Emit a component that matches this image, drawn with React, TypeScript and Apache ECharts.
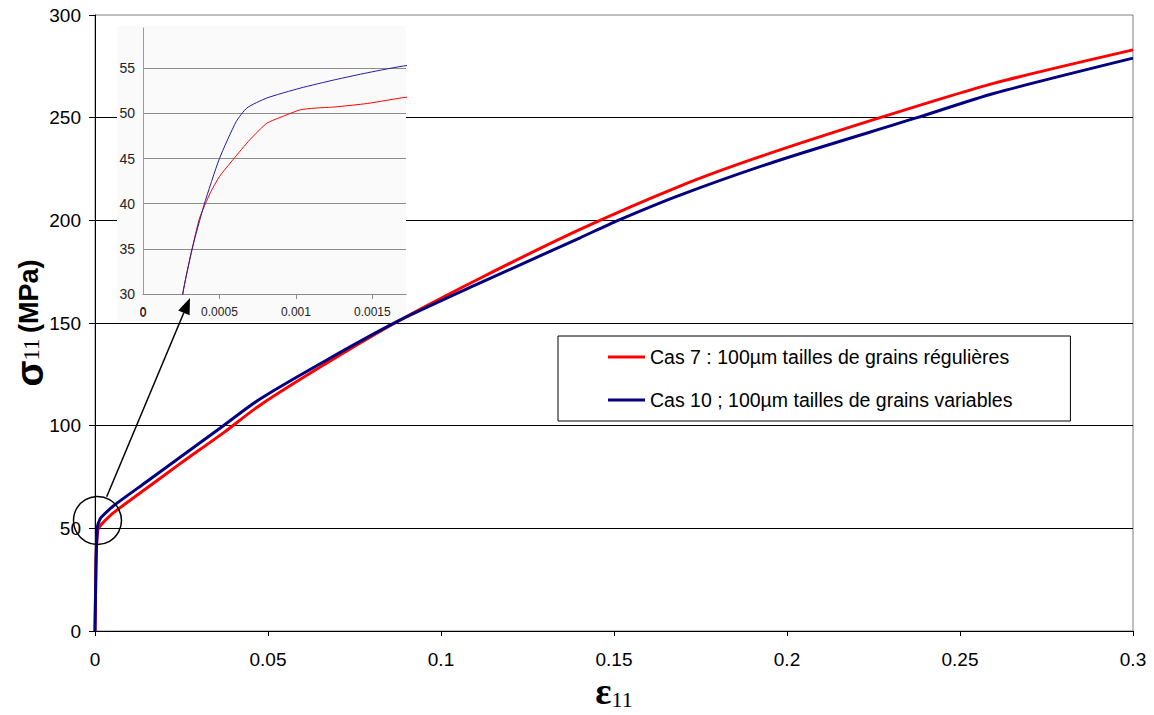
import React, { useEffect, useRef } from "react";
import * as echarts from "echarts";

// Cas 7 (red) : strain / stress (MPa)
const cas7Strain = [0, 0.00026, 0.00032, 0.00037, 0.00044, 0.0005, 0.00059, 0.0007, 0.00081, 0.00092, 0.00103, 0.00114, 0.00125, 0.00147, 0.00173, 0.0053, 0.0149, 0.0246, 0.0371, 0.0477, 0.067, 0.0877, 0.1113, 0.1402, 0.1691, 0.1922, 0.2269, 0.2597, 0.3];
const cas7Stress = [0, 30, 34.9, 38.4, 41.2, 43.0, 44.9, 47.1, 48.9, 49.7, 50.4, 50.6, 50.7, 51.1, 51.8, 57.5, 69.5, 81.5, 96.5, 110, 130.5, 151, 171.8, 195.6, 216.7, 231, 250, 266.7, 283];

// Cas 10 (blue) : strain / stress (MPa)
const cas10Strain = [0, 0.00026, 0.00032, 0.0004, 0.0005, 0.00061, 0.00068, 0.00081, 0.00103, 0.00125, 0.00147, 0.00173, 0.0053, 0.0149, 0.0246, 0.0371, 0.0477, 0.067, 0.0877, 0.1113, 0.1402, 0.1512, 0.1691, 0.198, 0.2376, 0.2597, 0.3];
const cas10Stress = [0, 30, 34.9, 39.9, 45.0, 49.1, 50.6, 51.7, 52.8, 53.7, 54.5, 55.3, 60.9, 72.7, 84.6, 100, 113, 132, 151, 169.5, 191.5, 200, 212.3, 229.4, 250, 261.8, 279];

// Inset (zoom) x-axis tick values
const insetXTicks = [0, 0.0005, 0.001, 0.0015];

const seriesNames = [
  "Cas 7 : 100µm tailles de grains régulières",
  "Cas 10 ; 100µm tailles de grains variables",
];

const pairs = (xs: number[], ys: number[]) => xs.map((x, i) => [x, ys[i]]);

const SANS = "'Liberation Sans', Arial, sans-serif";
const SERIF = "'Liberation Serif', 'Times New Roman', serif";

export default function App() {
  const ref = useRef<HTMLDivElement>(null);

  useEffect(() => {
    if (!ref.current) return;
    const chart = echarts.init(ref.current, null, { renderer: "svg" });
    const option: any = {
      animation: false,
      backgroundColor: "#ffffff",
      textStyle: { fontFamily: SANS },
      grid: [
        { left: 95, right: 21, top: 15, bottom: 84, show: true, borderColor: "#808080", borderWidth: 1, backgroundColor: "transparent", containLabel: false, outerBoundsMode: "none" },
        { left: 143, right: 748, top: 28, bottom: 421, show: false, containLabel: false, outerBoundsMode: "none" },
      ],
      xAxis: [
        {
          gridIndex: 0, type: "value", min: 0, max: 0.3, interval: 0.05,
          axisLine: { show: true, onZero: false, lineStyle: { color: "#000", width: 1 } },
          axisTick: { show: true, length: 5, lineStyle: { color: "#000" } },
          axisLabel: { fontSize: 19, color: "#000", margin: 19, fontFamily: SANS, showMinLabel: true },
          splitLine: { show: false },
          name: "{e|ε}{n|11}",
          nameLocation: "middle",
          nameGap: 33,
          nameMoveOverlap: false,
          nameTextStyle: {
            rich: {
              e: { fontSize: 38, fontWeight: "bold", fontFamily: SERIF, color: "#000", lineHeight: 46, verticalAlign: "bottom" },
              n: { fontSize: 22, fontFamily: SERIF, color: "#000", lineHeight: 26, padding: [0, 0, 0, 0], verticalAlign: "bottom" },
            },
          },
        },
        {
          gridIndex: 1, type: "value", min: 0, max: 0.00172, z: 5,
          axisLine: { show: true, onZero: false, lineStyle: { color: "#8a8a8a", width: 1 } },
          axisTick: { show: true, length: 5, customValues: insetXTicks.slice(1), lineStyle: { color: "#8a8a8a" } },
          axisLabel: { fontSize: 12, color: "#222", margin: 12, customValues: insetXTicks, showMinLabel: true, hideOverlap: false, fontFamily: SANS },
          splitLine: { show: false },
        },
      ],
      yAxis: [
        {
          gridIndex: 0, type: "value", min: 0, max: 300, interval: 50,
          axisLine: { show: true, onZero: false, lineStyle: { color: "#000", width: 1 } },
          axisTick: { show: true, length: 6, lineStyle: { color: "#000" } },
          axisLabel: { fontSize: 19, color: "#000", margin: 14, fontFamily: SANS, showMinLabel: true },
          splitLine: { show: true, showMaxLine: false, lineStyle: { color: "#000", width: 1 } },
          name: "{s|σ}{n|11} {m|(MPa)}",
          nameLocation: "middle",
          nameGap: 46,
          nameMoveOverlap: false,
          nameTextStyle: {
            fontSize: 20,
            rich: {
              s: { fontSize: 38, fontWeight: "bold", fontFamily: SANS, color: "#000", lineHeight: 46, verticalAlign: "bottom" },
              n: { fontSize: 23, fontFamily: SERIF, color: "#000", lineHeight: 28, padding: [0, 0, 6, 0], verticalAlign: "bottom" },
              m: { fontSize: 27, fontWeight: "bold", fontFamily: SANS, color: "#000", lineHeight: 33, padding: [0, 0, 7, 0], verticalAlign: "bottom" },
            },
          },
        },
        {
          gridIndex: 1, type: "value", min: 30, max: 59.45, interval: 5, z: 5,
          axisLine: { show: true, onZero: false, lineStyle: { color: "#9a9a9a", width: 1 } },
          axisTick: { show: false },
          axisLabel: { fontSize: 14, color: "#222", margin: 8, showMinLabel: true, showMaxLabel: false, fontFamily: SANS },
          splitLine: { show: true, showMaxLine: false, lineStyle: { color: "#8c8c8c", width: 1 } },
        },
      ],
      legend: {
        data: seriesNames,
        orient: "vertical",
        left: 558,
        top: 336,
        icon: "rect",
        itemWidth: 37,
        itemHeight: 3,
        itemGap: 21,
        padding: [10, 58, 10, 50],
        backgroundColor: "#ffffff",
        borderColor: "#000",
        borderWidth: 1,
        selectedMode: false,
        textStyle: { fontSize: 19.5, color: "#000", lineHeight: 22, fontFamily: SANS },
      },
      series: [
        {
          name: seriesNames[0], type: "line", xAxisIndex: 0, yAxisIndex: 0,
          data: pairs(cas7Strain, cas7Stress), symbol: "none", smooth: 0.25,
          color: "#ff0000", lineStyle: { width: 3, color: "#ff0000" }, z: 2,
        },
        {
          name: seriesNames[1], type: "line", xAxisIndex: 0, yAxisIndex: 0,
          data: pairs(cas10Strain, cas10Stress), symbol: "none", smooth: 0.25,
          color: "#000080", lineStyle: { width: 3, color: "#000080" }, z: 3,
        },
        {
          name: seriesNames[0], type: "line", xAxisIndex: 1, yAxisIndex: 1,
          data: pairs(cas7Strain, cas7Stress), symbol: "none", smooth: 0.2,
          color: "#ff0000", lineStyle: { width: 1, color: "#ff0000" }, z: 6,
        },
        {
          name: seriesNames[1], type: "line", xAxisIndex: 1, yAxisIndex: 1,
          data: pairs(cas10Strain, cas10Stress), symbol: "none", smooth: 0.2,
          color: "#1e1e9e", lineStyle: { width: 1, color: "#1e1e9e" }, z: 7,
        },
      ],
      graphic: [
        { type: "rect", silent: true, z: 1, shape: { x: 117, y: 26, width: 289, height: 295 }, style: { fill: "#fafafa" } },
        { type: "text", silent: true, z: 8, x: 143, y: 313, style: { text: "0", fontSize: 12, fill: "#222", fontFamily: SANS, align: "center", verticalAlign: "middle" } },
        { type: "circle", silent: true, z: 10, shape: { cx: 97.5, cy: 520.5, r: 24 }, style: { fill: "none", stroke: "#000", lineWidth: 1.5 } },
        { type: "line", silent: true, z: 10, shape: { x1: 106.7, y1: 496.7, x2: 183.8, y2: 312.8 }, style: { stroke: "#000", lineWidth: 1.5 } },
        { type: "polygon", silent: true, z: 10, shape: { points: [[190, 298], [189.6, 315.3], [178.2, 310.4]] }, style: { fill: "#000" } },
      ],
    };
    chart.setOption(option);
    return () => chart.dispose();
  }, []);

  return (
    <div
      ref={ref}
      style={{ position: "absolute", left: 0, top: 0, width: 1154, height: 715 }}
    />
  );
}
